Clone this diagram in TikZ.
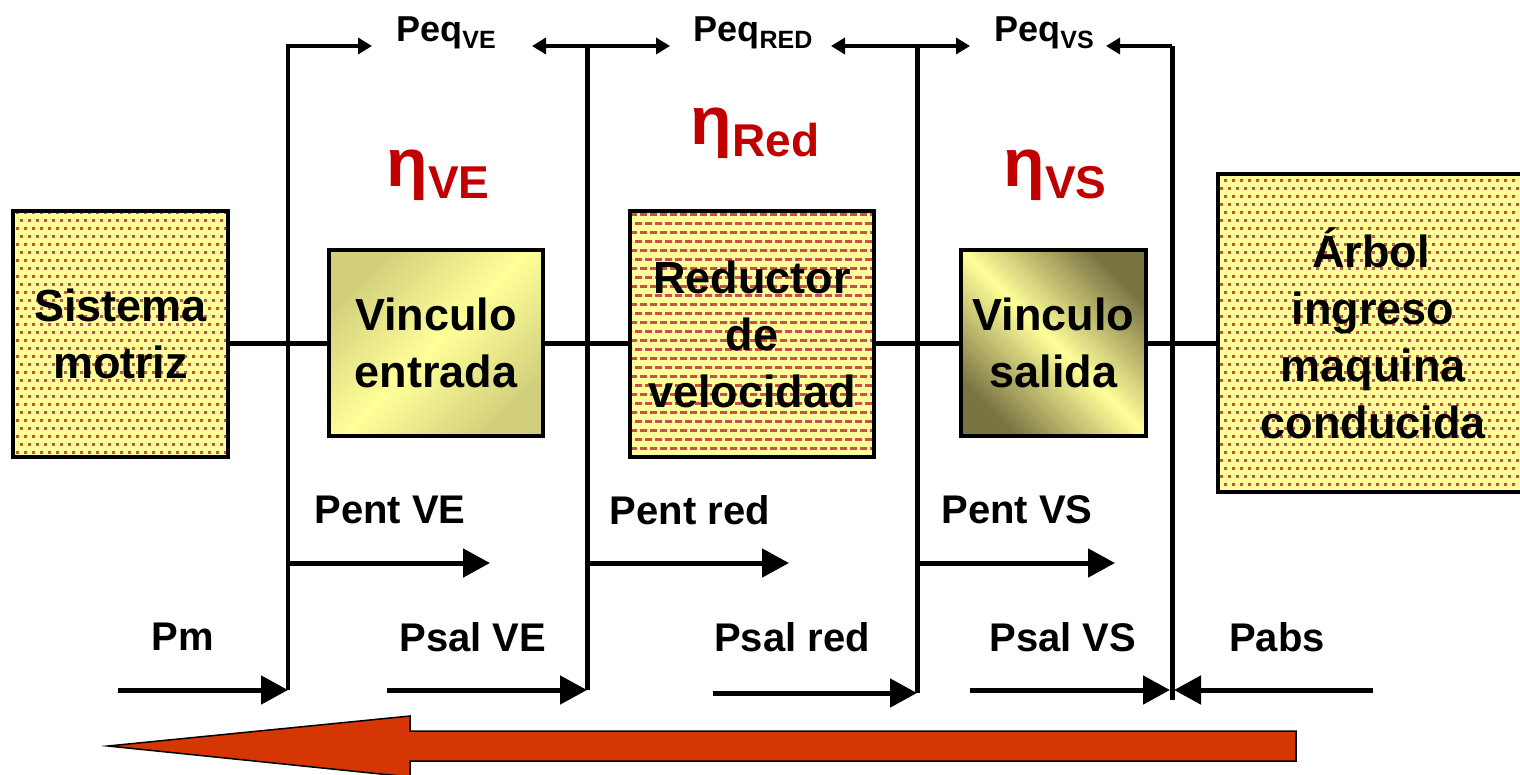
\documentclass[tikz,border=0pt]{standalone}
\usepackage{fontspec}
\setmainfont{Liberation Sans}
\usetikzlibrary{arrows.meta,patterns}

\definecolor{boxyellow}{HTML}{FFFF99}
\definecolor{dotred}{HTML}{C8504D}
\definecolor{etared}{HTML}{C00000}
\definecolor{bigred}{HTML}{D63504}
\definecolor{oliveA}{HTML}{D2CF7C}
\definecolor{oliveB}{HTML}{7A7443}

\pgfdeclarepatternformonly{bigdots}{\pgfpoint{-1pt}{-1pt}}{\pgfpoint{9pt}{17pt}}{\pgfpoint{8pt}{16pt}}{%
  \pgfpathrectangle{\pgfpoint{0pt}{0pt}}{\pgfpoint{2.8pt}{2.8pt}}%
  \pgfpathrectangle{\pgfpoint{4pt}{8pt}}{\pgfpoint{2.8pt}{2.8pt}}%
  \pgfusepath{fill}}
\pgfdeclarepatternformonly{dashbricks}{\pgfpoint{-1pt}{-1pt}}{\pgfpoint{11pt}{19pt}}{\pgfpoint{10pt}{18pt}}{%
  \pgfpathrectangle{\pgfpoint{0pt}{0pt}}{\pgfpoint{7pt}{2.8pt}}%
  \pgfpathrectangle{\pgfpoint{5pt}{9pt}}{\pgfpoint{5pt}{2.8pt}}%
  \pgfpathrectangle{\pgfpoint{0pt}{9pt}}{\pgfpoint{2pt}{2.8pt}}%
  \pgfusepath{fill}}

\tikzset{
  boxtext/.style={align=center, inner sep=0pt, font=\fontsize{45}{57}\selectfont\bfseries},
  dotbox/.style={boxtext, draw, line width=3.5pt, rectangle, preaction={fill=boxyellow}, pattern=bigdots, pattern color=dotred},
  brickbox/.style={boxtext, draw, line width=3.5pt, rectangle, preaction={fill=boxyellow}, pattern=dashbricks, pattern color=dotred},
  gradA/.style={boxtext, draw, line width=3.5pt, rectangle, top color=oliveA, bottom color=oliveA, middle color=boxyellow, shading angle=45},
  gradB/.style={boxtext, draw, line width=3.5pt, rectangle, top color=oliveB, bottom color=oliveB, middle color=boxyellow, shading angle=-45},
  shaft/.style={line width=5pt},
  vline/.style={line width=5pt},
  bigarr/.style={line width=5pt, -{Triangle[length=27pt,width=28pt]}},
  smallarr/.style={line width=4.5pt, -{Triangle[length=14pt,width=16pt]}},
  lab/.style={inner sep=0pt, font=\fontsize{40}{40}\selectfont\bfseries},
  peq/.style={inner sep=0pt, font=\fontsize{36}{36}\selectfont\bfseries},
  eta/.style={inner sep=0pt, text=etared, font=\fontsize{68}{68}\selectfont\bfseries},
}
\newcommand{\peqsub}[1]{\raisebox{-7pt}{\fontsize{25}{25}\selectfont #1}}
\newcommand{\etasub}[1]{\raisebox{-12pt}{\fontsize{46}{46}\selectfont #1}}

\begin{document}
\begin{tikzpicture}[x=1pt,y=-1pt]
\useasboundingbox (0,0) rectangle (1520,774);
\clip (0,0) rectangle (1520,774);

% boxes
\node[dotbox, minimum width=215, minimum height=246] (sm) at (120.5,334) {Sistema\\motriz};
\node[gradA, minimum width=214, minimum height=186] (ve) at (436,343) {Vinculo\\entrada};
\node[brickbox, minimum width=244, minimum height=246] (red) at (752,334) {Reductor\\de\\velocidad};
\node[gradB, minimum width=185, minimum height=186] (vs) at (1053.5,343) {Vinculo\\salida};
\node[dotbox, minimum width=310, minimum height=318, text width=300] (arb) at (1373,333) {\hspace*{-4pt}Árbol\\ingreso\\maquina\\conducida};

% shaft
\draw[shaft] (ve.west) -- (ve.west -| sm.east);
\draw[shaft] (ve.east) -- (ve.east -| red.west);
\draw[shaft] (vs.west) -- (vs.west -| red.east);
\draw[shaft] (vs.east) -- (vs.east -| arb.west);

% coordinates
\coordinate (v1t) at (288,46);  \coordinate (v1b) at (288,690);
\coordinate (v2t) at (587,46);  \coordinate (v2b) at (587,690);
\coordinate (v3t) at (917,46);  \coordinate (v3b) at (917,693);
\coordinate (v4t) at (1172,46); \coordinate (v4b) at (1172,700);
\coordinate (v4m) at (1172,690);

\coordinate (t1) at (372,46);
\coordinate (t2l) at (532,46); \coordinate (t2r) at (670,46);
\coordinate (t3l) at (831,46); \coordinate (t3r) at (970,46);
\coordinate (t4l) at (1106,46);

\coordinate (m1) at (490,563); \coordinate (m1s) at (288,563);
\coordinate (m2) at (789,563); \coordinate (m2s) at (587,563);
\coordinate (m3) at (1115,563); \coordinate (m3s) at (917,563);

\coordinate (b1) at (118,690);
\coordinate (b2) at (387,690);
\coordinate (b3) at (713,693);
\coordinate (b4) at (970,690);
\coordinate (b5) at (1373,690);

% vertical lines and top arrows
\draw[smallarr] (v1b) -- (v1t) -- (t1);
\draw[vline] (v2b) -- (v2t);
\draw[smallarr] (v2t) -- (t2l);
\draw[smallarr] (v2t) -- (t2r);
\draw[vline] (v3b) -- (v3t);
\draw[smallarr] (v3t) -- (t3l);
\draw[smallarr] (v3t) -- (t3r);
\draw[vline] (v4b) -- (v4t);
\draw[smallarr] (v4t) -- (t4l);

% middle arrows
\draw[bigarr] (m1s) -- (m1);
\draw[bigarr] (m2s) -- (m2);
\draw[bigarr] (m3s) -- (m3);

% bottom arrows
\draw[bigarr] (b1) -- (v1b);
\draw[bigarr] (b2) -- (v2b);
\draw[bigarr] (b3) -- (v3b);
\draw[bigarr] (b4) -- ([xshift=-2pt]v4m);
\draw[bigarr] (b5) -- ([xshift=2pt]v4m);

% big red arrow
\draw[fill=bigred, line width=1.5pt, line join=miter]
  (410,731) -- (1296,731) -- (1296,761) -- (410,761) -- (410,777) -- (108,746) -- (410,716) -- cycle;

% Peq labels
\node[peq] (peqve) at (446,33) {Peq\peqsub{VE}};
\node[peq] (peqred) at (753,33) {Peq\peqsub{RED}};
\node[peq] (peqvs) at (1044,33) {Peq\peqsub{VS}};

% eta labels
\node[eta] (etave) at (438,175) {η\etasub{VE}};
\node[eta] (etared) at (755,133) {η\etasub{Red}};
\node[eta] (etavs) at (1055,175) {η\etasub{VS}};

% power labels
\node[lab] (pentve) at (390,510) {Pent VE};
\node[lab] (pentred) at (690,510) {Pent red};
\node[lab] (pentvs) at (1017,510) {Pent VS};
\node[lab] (pm) at (183,637) {Pm};
\node[lab] (psalve) at (473,637) {Psal VE};
\node[lab] (psalred) at (792,637) {Psal red};
\node[lab] (psalvs) at (1063,637) {Psal VS};
\node[lab] (pabs) at (1277,637) {Pabs};
\end{tikzpicture}
\end{document}
